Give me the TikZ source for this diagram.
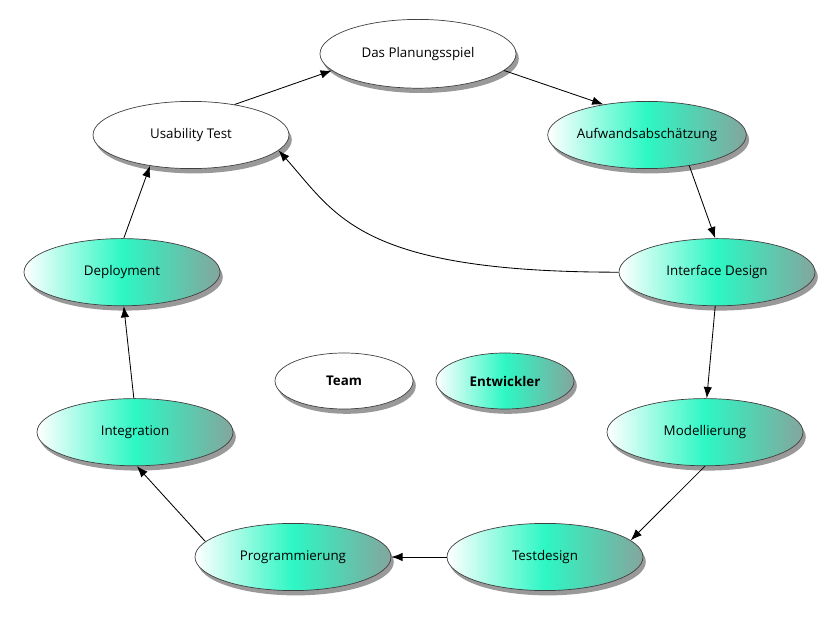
\documentclass[tikz,border=0pt]{standalone}
\usepackage{fontspec}
\setmainfont{Open Sans}
\usetikzlibrary{shapes.geometric,shadows,arrows.meta}
\definecolor{aqua}{HTML}{2DF7C4}
\definecolor{sage}{HTML}{84A59D}

\begin{document}
\begin{tikzpicture}[font=\fontsize{9.5}{11}\selectfont,
  phase/.style={ellipse,draw=black!75,line width=0.5pt,inner sep=0pt,minimum width=4.9cm,minimum height=1.68cm,
    drop shadow={shadow xshift=0.07cm,shadow yshift=-0.12cm,fill=black,opacity=0.4}},
  plain/.style={phase,fill=white},
  dev/.style={phase,left color=white,right color=sage,middle color=aqua},
  role/.style={minimum width=3.45cm,minimum height=1.4cm,font=\fontsize{9.5}{11}\selectfont\bfseries},
  flow/.style={-{Latex[length=8pt,width=6pt]},black,line width=0.6pt}]
\useasboundingbox (0,0) rectangle (21,15.525);

% customer side
\node[plain,minimum height=1.72cm] (plan) at (10.45,14.18) {Das Planungsspiel};
\node[plain] (usab) at (4.775,12.15) {Usability Test};
% developer cycle
\node[dev] (aufw) at (16.175,12.15) {Aufwandsabschätzung};
\node[dev] (iface) at (17.925,8.72) {Interface Design};
\node[dev] (modell) at (17.625,4.72) {Modellierung};
\node[dev] (testd) at (13.625,1.6) {Testdesign};
\node[dev] (progr) at (7.325,1.6) {Programmierung};
\node[dev] (integ) at (3.375,4.72) {Integration};
\node[dev] (depl) at (3.05,8.72) {Deployment};
% legend
\node[plain,role] (team) at (8.6,6.0) {Team};
\node[dev,role] (entw) at (12.625,6.0) {Entwickler};

% cycle
\draw[flow] (usab.35) -- (plan.191);
\draw[flow] (plan.-11) -- (aufw.145);
\draw[flow] (aufw.-36) -- (iface.93);
\draw[flow] (iface.-93) -- (modell.87);
\draw[flow] (modell.-90) -- (testd.11);
\draw[flow] (testd) -- (progr);
\draw[flow] (progr.170) -- (integ.-87);
\draw[flow] (integ.92) -- (depl.-87);
\draw[flow] (depl.87) -- (usab.217);
% feedback from interface design
\draw[flow] (iface.west) .. controls +(-6.5,0) and +(1.45,-1.62) .. (usab.-10);
\end{tikzpicture}
\end{document}
